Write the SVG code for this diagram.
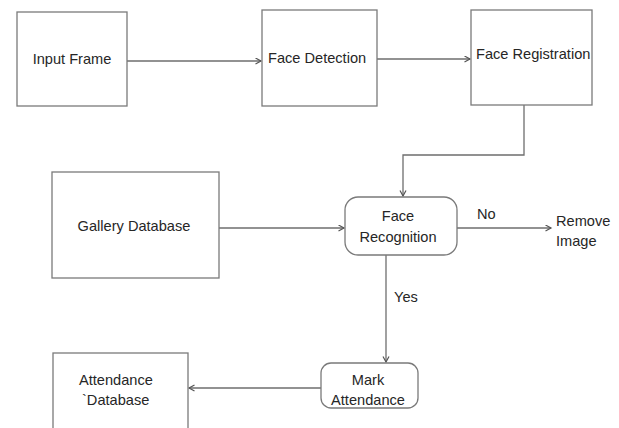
<svg xmlns="http://www.w3.org/2000/svg" width="619" height="428" viewBox="0 0 619 428">
<style>
.box{fill:#fff;stroke:#7a7a7a;stroke-width:1.3}
.ln{fill:none;stroke:#6e6e6e;stroke-width:1.3}
text{font-family:"Liberation Sans",Arial,sans-serif;font-size:14.6px;fill:#262626}
.c{text-anchor:middle}
</style>
<defs>
<marker id="ah" markerWidth="8" markerHeight="8" refX="6" refY="3.5" orient="auto" markerUnits="userSpaceOnUse">
<path d="M0.5,0.5 L6,3.5 L0.5,6.5" fill="none" stroke="#555" stroke-width="1.2"/>
</marker>
</defs>
<rect width="619" height="428" fill="#fff"/>
<g id="connectors">
<line class="ln" x1="127" y1="61" x2="261" y2="61" marker-end="url(#ah)"/>
<line class="ln" x1="377" y1="59" x2="470" y2="59" marker-end="url(#ah)"/>
<polyline class="ln" points="524,105 524,155 403,155 403,196" marker-end="url(#ah)"/>
<line class="ln" x1="219" y1="228" x2="344" y2="228" marker-end="url(#ah)"/>
<line class="ln" x1="457" y1="228" x2="551" y2="228" marker-end="url(#ah)"/>
<line class="ln" x1="386" y1="255" x2="386" y2="362" marker-end="url(#ah)"/>
<line class="ln" x1="321" y1="388" x2="189" y2="388" marker-end="url(#ah)"/>
<text x="477" y="219">No</text>
<text x="394" y="302">Yes</text>
<text x="556" y="226">Remove</text>
<text x="556" y="246">Image</text>
</g>
<g id="input-frame">
<rect class="box" x="17" y="12" width="110" height="94"/>
<text class="c" x="72" y="64">Input Frame</text>
</g>
<g id="face-detection">
<rect class="box" x="262" y="10" width="115" height="96"/>
<text x="268" y="63">Face Detection</text>
</g>
<g id="face-registration">
<rect class="box" x="471" y="10" width="121" height="95"/>
<text x="476" y="59">Face Registration</text>
</g>
<g id="gallery-database">
<rect class="box" x="52" y="172" width="167" height="106"/>
<text class="c" x="134" y="231">Gallery Database</text>
</g>
<g id="face-recognition">
<rect class="box" x="345" y="197" width="112" height="58" rx="13" ry="13"/>
<text class="c" x="398" y="221">Face</text>
<text class="c" x="398" y="242">Recognition</text>
</g>
<g id="mark-attendance">
<rect class="box" x="321" y="363" width="97" height="45" rx="10" ry="10"/>
<text class="c" x="368" y="385">Mark</text>
<text class="c" x="368" y="405">Attendance</text>
</g>
<g id="attendance-database">
<rect class="box" x="53" y="353" width="135" height="90"/>
<text x="79" y="385">Attendance</text>
<text x="82" y="405">`Database</text>
</g>
</svg>
